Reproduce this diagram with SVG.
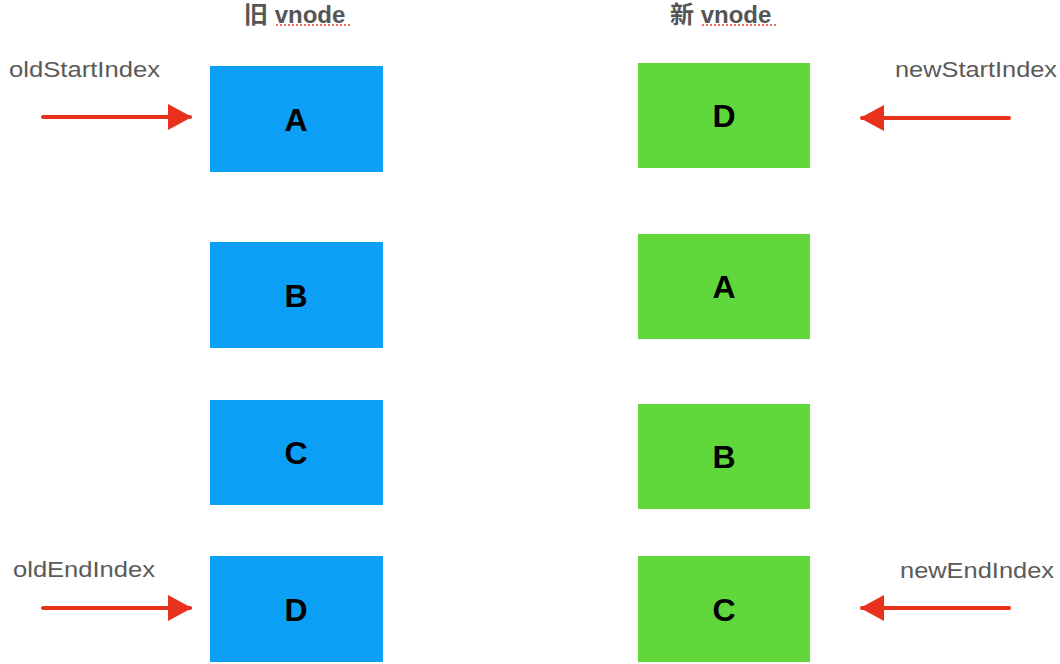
<svg xmlns="http://www.w3.org/2000/svg" width="1060" height="664" viewBox="0 0 1060 664">
<style>
.old{fill:#0ba0f5;}
.new{fill:#60d83b;}
.lbl{font-family:"Liberation Sans",Arial,sans-serif;font-weight:bold;font-size:32px;fill:#000;text-anchor:middle;}
.idx{font-family:"Liberation Sans",Arial,sans-serif;font-size:22px;fill:#5a5a5a;}
.title{font-family:"Liberation Sans","Noto Sans CJK SC",sans-serif;font-weight:bold;font-size:24px;fill:#555;}
.arr{stroke:#e8321e;stroke-width:4;fill:none;stroke-linecap:round;}
.squig{stroke:#e04030;stroke-width:1.5;stroke-dasharray:2 2;fill:none;}
</style>
<defs>
<marker id="ah" viewBox="0 0 24 28" refX="22" refY="14" markerWidth="24" markerHeight="28" markerUnits="userSpaceOnUse" orient="auto">
<path d="M0,1 L24,14 L0,27 Z" fill="#e8321e"/>
</marker>
</defs>
<rect width="1060" height="664" fill="#fff"/>
<g id="titles">
<text class="title" x="244" y="23">旧 vnode</text>
<path class="squig" d="M276,25 H350"/>
<text class="title" x="670" y="23">新 vnode</text>
<path class="squig" d="M702,25 H778"/>
</g>
<g id="old-A"><rect class="old" x="210" y="66" width="173" height="106"/><text class="lbl" x="296" y="131">A</text></g>
<g id="old-B"><rect class="old" x="210" y="242" width="173" height="106"/><text class="lbl" x="296" y="307">B</text></g>
<g id="old-C"><rect class="old" x="210" y="400" width="173" height="105"/><text class="lbl" x="296" y="464">C</text></g>
<g id="old-D"><rect class="old" x="210" y="556" width="173" height="106"/><text class="lbl" x="296" y="621">D</text></g>
<g id="new-D"><rect class="new" x="638" y="63" width="172" height="105"/><text class="lbl" x="724" y="127">D</text></g>
<g id="new-A"><rect class="new" x="638" y="234" width="172" height="105"/><text class="lbl" x="724" y="298">A</text></g>
<g id="new-B"><rect class="new" x="638" y="404" width="172" height="105"/><text class="lbl" x="724" y="468">B</text></g>
<g id="new-C"><rect class="new" x="638" y="556" width="172" height="106"/><text class="lbl" x="724" y="621">C</text></g>
<g id="labels">
<text class="idx" x="9" y="77" textLength="151" lengthAdjust="spacingAndGlyphs">oldStartIndex</text>
<text class="idx" x="13" y="577" textLength="142" lengthAdjust="spacingAndGlyphs">oldEndIndex</text>
<text class="idx" x="895" y="77" textLength="162" lengthAdjust="spacingAndGlyphs">newStartIndex</text>
<text class="idx" x="900" y="578" textLength="154" lengthAdjust="spacingAndGlyphs">newEndIndex</text>
</g>
<g id="connectors">
<path class="arr" d="M43,117 H190" marker-end="url(#ah)"/>
<path class="arr" d="M43,608 H190" marker-end="url(#ah)"/>
<path class="arr" d="M1009,118 H862" marker-end="url(#ah)"/>
<path class="arr" d="M1009,608 H862" marker-end="url(#ah)"/>
</g>
</svg>
